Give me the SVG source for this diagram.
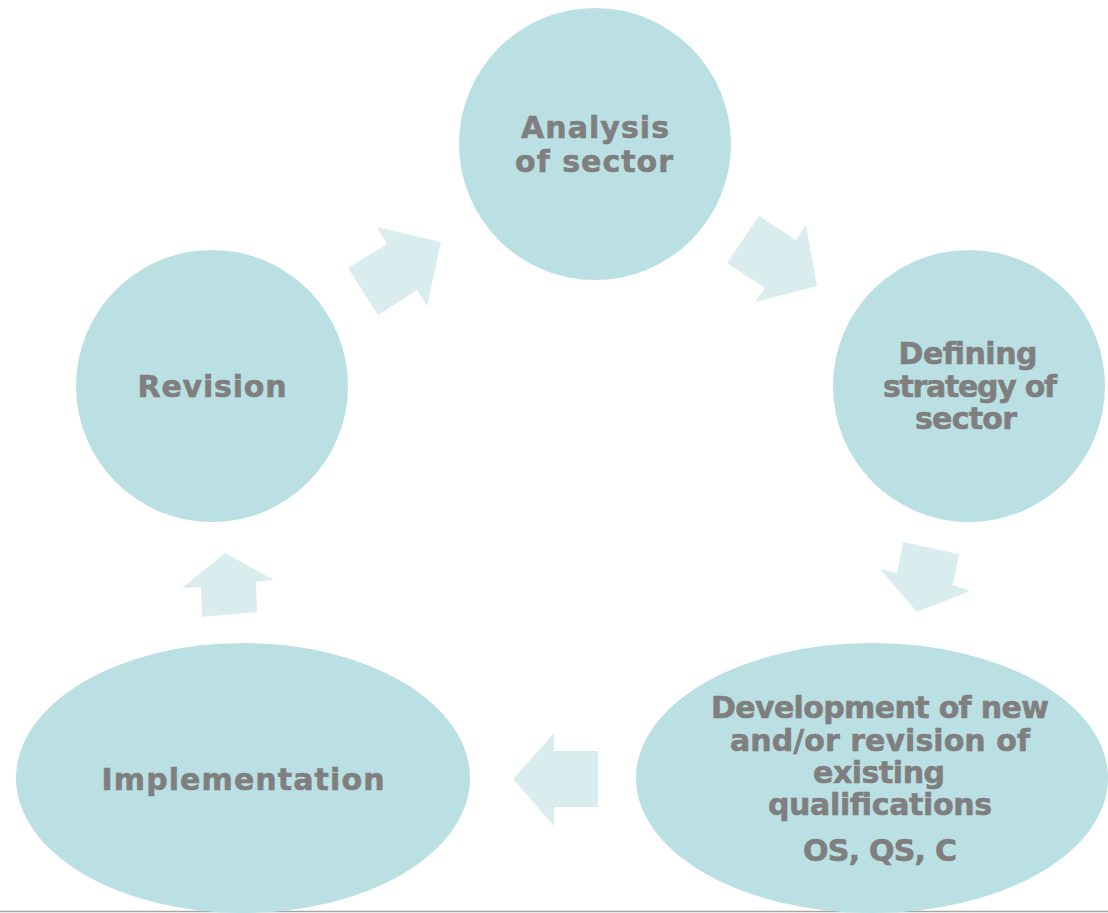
<svg xmlns="http://www.w3.org/2000/svg" width="1108" height="913" viewBox="0 0 1108 913">
<style>
.node{fill:#BBE0E3}
.arr{fill:#D9EDEF}
.t{font-family:"DejaVu Sans","Liberation Sans",sans-serif;font-weight:bold;font-size:30px;fill:#7F7F7F;stroke:#7F7F7F;stroke-width:0.6;text-anchor:middle}
</style>
<rect width="1108" height="913" fill="#FFFFFF"/>
<line x1="0" y1="911.5" x2="1108" y2="911.5" stroke="#A6A6A6" stroke-width="1.5"/>
<g id="connectors">
<polygon class="arr" points="348,268 387,244 377,227 441,242 427,306 417,290 378,315"/>
<polygon class="arr" points="759,216 796,240 806,225 817,286 755,302 765,288 727,263"/>
<polygon class="arr" points="903,542 959,554 953,585 970,591 917,612 880,569 897,573"/>
<polygon class="arr" points="513,779 554,733 554,751 598,751 598,807 554,807 554,826"/>
<polygon class="arr" points="225,553 274,580 256,582 257,612 202,617 201,587 182,588"/>
</g>
<g id="analysis">
<circle class="node" cx="595" cy="144" r="136"/>
<text class="t" x="595" y="138" textLength="148" lengthAdjust="spacing">Analysis</text>
<text class="t" x="594" y="172" textLength="158" lengthAdjust="spacing">of sector</text>
</g>
<g id="defining">
<circle class="node" cx="969" cy="386" r="136"/>
<text class="t" x="968" y="364" textLength="139" lengthAdjust="spacing">Defining</text>
<text class="t" x="970" y="397" textLength="174" lengthAdjust="spacing">strategy of</text>
<text class="t" x="966" y="429" textLength="102" lengthAdjust="spacing">sector</text>
</g>
<g id="development">
<ellipse class="node" cx="872" cy="778" rx="236" ry="135"/>
<text class="t" x="880" y="718" textLength="338" lengthAdjust="spacing">Development of new</text>
<text class="t" x="880" y="751" textLength="300" lengthAdjust="spacing">and/or revision of</text>
<text class="t" x="879" y="783" textLength="132" lengthAdjust="spacing">existing</text>
<text class="t" x="880" y="815" textLength="224" lengthAdjust="spacing">qualifications</text>
<text class="t" x="880" y="861" textLength="154" lengthAdjust="spacing">OS, QS, C</text>
</g>
<g id="implementation">
<ellipse class="node" cx="243" cy="778" rx="227" ry="135"/>
<text class="t" x="243" y="790" textLength="283" lengthAdjust="spacing">Implementation</text>
</g>
<g id="revision">
<circle class="node" cx="212" cy="386" r="136"/>
<text class="t" x="212" y="397" textLength="149" lengthAdjust="spacing">Revision</text>
</g>
</svg>
